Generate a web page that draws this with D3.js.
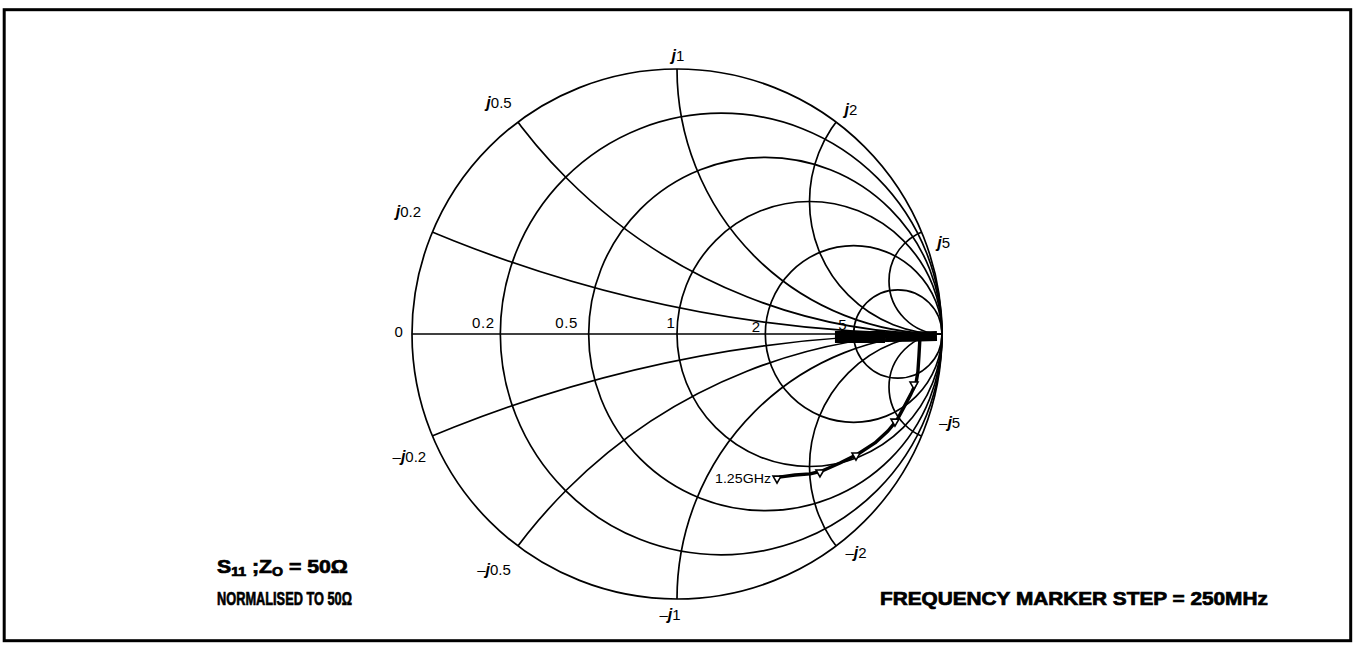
<!DOCTYPE html>
<html><head><meta charset="utf-8">
<script src="https://cdn.jsdelivr.net/npm/d3@7"></script>
<style>body{margin:0;background:#fff;} svg{display:block;}</style>
</head><body>
<svg id="chart" width="1356" height="645"></svg>
<script>
// ---- data ----
const resistances = [0, 0.2, 0.5, 1, 2, 5];
const resistanceLabels = ["0", "0.2", "0.5", "1", "2", "5"];
const reactances = [0.2, 0.5, 1, 2, 5];
const reactanceLabels = ["0.2", "0.5", "1", "2", "5"];
// S11 sweep (reflection coefficient, real / imaginary), starting at the 1.25GHz marker
const s11Re = [0.385, 0.445, 0.502, 0.547, 0.615, 0.683, 0.747, 0.796, 0.830, 0.857, 0.883, 0.902, 0.909, 0.913, 0.917];
const s11Im = [-0.540, -0.532, -0.528, -0.517, -0.487, -0.453, -0.411, -0.366, -0.325, -0.275, -0.226, -0.185, -0.143, -0.083, -0.011];
// dense low-frequency cluster along the real axis
const bandRe = [0.596, 0.700, 0.785, 0.880, 0.981];
const bandIm = [-0.011, -0.011, -0.011, -0.010, -0.008];
// 250MHz frequency markers (indices into the sweep)
const markerIdx = [0, 3, 5, 8, 11];
const startLabel = "1.25GHz";

// ---- layout ----
const svg = d3.select("#chart");
const cx = 677, cy = 334, R = 265;
const x = d3.scaleLinear().domain([-1, 1]).range([cx - R, cx + R]);
const y = d3.scaleLinear().domain([-1, 1]).range([cy + R, cy - R]);
const rs = d3.scaleLinear().domain([0, 1]).range([0, R]);

svg.append("rect").attr("x", 4.2).attr("y", 9.7).attr("width", 1346.5).attr("height", 631)
  .attr("fill", "none").attr("stroke", "#000").attr("stroke-width", 3);

svg.append("clipPath").attr("id", "unit").append("circle")
  .attr("cx", x(0)).attr("cy", y(0)).attr("r", rs(1));

const grid = svg.append("g").attr("fill", "none").attr("stroke", "#000").attr("stroke-width", 1.7);

// constant resistance circles
grid.selectAll("circle.r").data(resistances).join("circle").attr("class", "r")
  .attr("cx", d => x(d / (1 + d))).attr("cy", y(0)).attr("r", d => rs(1 / (1 + d)));

// constant reactance arcs (clipped to the unit circle)
const gx = grid.append("g").attr("clip-path", "url(#unit)");
const reactAll = reactances.flatMap(v => [v, -v]);
gx.selectAll("circle.x").data(reactAll).join("circle").attr("class", "x")
  .attr("cx", x(1)).attr("cy", d => y(1 / d)).attr("r", d => rs(1 / Math.abs(d)));

// real axis
grid.append("line").attr("x1", x(-1)).attr("x2", x(1)).attr("y1", y(0)).attr("y2", y(0));

// ---- labels ----
const lab = svg.append("g").attr("font-family", "Liberation Sans, Arial, sans-serif").attr("font-size", 15).attr("fill", "#000");
const rLabOff = [[-13, -2], [-17, -11], [-22, -11], [-6, -11], [-9, -7], [-11, -9]];
resistances.forEach((r, i) => {
  const gam = (r - 1) / (r + 1);
  lab.append("text").attr("x", x(gam) + rLabOff[i][0]).attr("y", y(0) + rLabOff[i][1]).attr("text-anchor", "middle")
    .attr("dy", "0.35em").attr("letter-spacing", 0.6).text(resistanceLabels[i]);
});
const xLabOffTop = [[-24, -20], [-19, -19], [1, -13], [15, -12], [22, 11]];
const xLabOffBot = [[-23, 21], [-24, 24], [-7, 16], [20, 7], [28, -13]];
function rim(v) { const d = v * v + 1; return [(v * v - 1) / d, 2 * v / d]; }
reactances.forEach((v, i) => {
  [1, -1].forEach(sgn => {
    const p = rim(sgn * v);
    const off = sgn > 0 ? xLabOffTop[i] : xLabOffBot[i];
    const t = lab.append("text").attr("x", x(p[0]) + off[0]).attr("y", y(p[1]) + off[1])
      .attr("text-anchor", "middle").attr("dy", "0.35em");
    if (sgn < 0) t.append("tspan").text("\u2013");
    t.append("tspan").attr("font-style", "italic").attr("font-weight", "bold").attr("font-size", 16).text("j");
    t.append("tspan").text(reactanceLabels[i]);
  });
});

// ---- S11 trace ----
const line = d3.line().x(d => x(d[0])).y(d => y(d[1]));
const band = bandRe.map((v, i) => [v, bandIm[i]]);
const sweep = s11Re.map((v, i) => [v, s11Im[i]]);
svg.append("path").attr("d", line(band.slice(0, 3))).attr("fill", "none").attr("stroke", "#000").attr("stroke-width", 12);
svg.append("path").attr("d", line(band.slice(2))).attr("fill", "none").attr("stroke", "#000").attr("stroke-width", 10);
svg.append("path").attr("d", line(sweep)).attr("fill", "none").attr("stroke", "#000").attr("stroke-width", 3.4)
  .attr("stroke-linejoin", "round");
svg.append("path").attr("d", line([sweep[sweep.length - 1], band[band.length - 2]])).attr("fill", "none")
  .attr("stroke", "#000").attr("stroke-width", 4);

const tri = "M-4,-3 L4,-3 L0,4 Z";
svg.selectAll("path.mk").data(markerIdx).join("path").attr("class", "mk")
  .attr("transform", d => `translate(${x(s11Re[d]) - 2},${y(s11Im[d]) + 2})`)
  .attr("d", tri).attr("fill", "#fff").attr("stroke", "#000").attr("stroke-width", 1.6);

svg.append("text").attr("x", x(s11Re[0]) - 8).attr("y", y(s11Im[0]) + 6).attr("text-anchor", "end")
  .attr("font-family", "Liberation Sans Narrow, Liberation Sans, Arial, sans-serif").attr("font-size", 12)
  .attr("textLength", 56).attr("lengthAdjust", "spacingAndGlyphs").text(startLabel);

// ---- notes (bold, condensed) ----
const note = svg.append("g").attr("font-family", "Liberation Sans, Arial, sans-serif")
  .attr("font-weight", "bold").attr("font-size", 18).attr("fill", "#000")
  .attr("stroke", "#000").attr("stroke-width", 0.7);
function fit(t, x0, y0, w) {
  const len = t.node().getComputedTextLength();
  t.attr("transform", `translate(${x0},${y0}) scale(${w / len},1)`);
}
const t1 = note.append("text");
t1.append("tspan").text("S");
t1.append("tspan").attr("font-size", 12).attr("dy", 3).text("11");
t1.append("tspan").attr("dy", -3).text(" ;Z");
t1.append("tspan").attr("font-size", 12).attr("dy", 3).text("O");
t1.append("tspan").attr("dy", -3).text(" = 50\u03A9");
fit(t1, 217, 573, 131);
fit(note.append("text").attr("font-size", 19).text("NORMALISED TO 50\u03A9"), 217, 605, 135);
fit(note.append("text").text("FREQUENCY MARKER STEP = 250MHz"), 880, 605, 388);
</script>
</body></html>
